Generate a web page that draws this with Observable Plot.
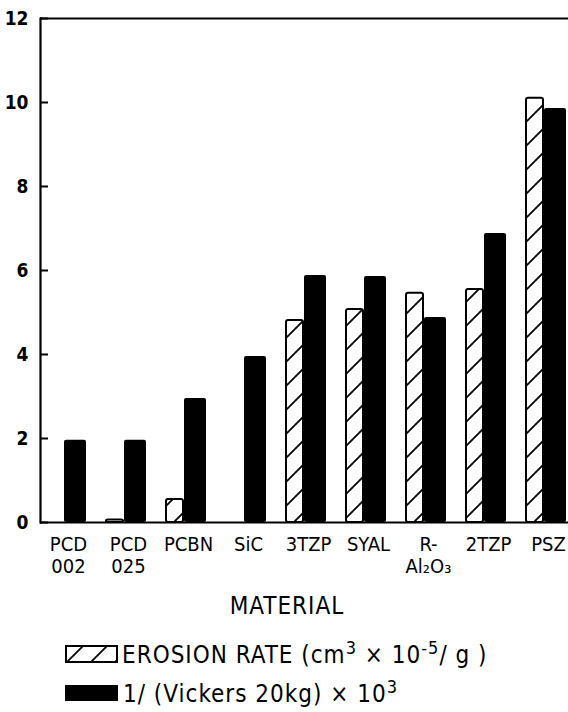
<!DOCTYPE html>
<html>
<head>
<meta charset="utf-8">
<script src="https://cdn.jsdelivr.net/npm/d3@7"></script>
<script src="https://cdn.jsdelivr.net/npm/@observablehq/plot@0.6"></script>
<style>
  html, body { margin: 0; padding: 0; background: #fff; }
  #wrap { width: 568px; position: relative; }
  svg { display: block; }
  .ff { font-family: "Liberation Sans Narrow", "DejaVu Sans Condensed", sans-serif; }
</style>
</head>
<body>
<div id="wrap"></div>
<script>
// ---- data ----
const categories = ["PCD 002", "PCD 025", "PCBN", "SiC", "3TZP", "SYAL", "R-Al2O3", "2TZP", "PSZ"];
const categoryLabels = ["PCD\n002", "PCD\n025", "PCBN", "SiC", "3TZP", "SYAL", "R-\nAl₂O₃", "2TZP", "PSZ"];
const erosionRate = [0, 0.06, 0.55, 0, 4.81, 5.07, 5.46, 5.55, 10.1];
const inverseVickers = [1.96, 1.96, 2.95, 3.95, 5.88, 5.86, 4.88, 6.88, 9.86];
const yTicks = [0, 2, 4, 6, 8, 10, 12];
const xTitle = "MATERIAL";
const legendLabels = ["EROSION RATE", "1/(Vickers 20kg)"];

const rows = categories.map((c, i) => ({cat: c, label: categoryLabels[i], erosion: erosionRate[i], vickers: inverseVickers[i]}));
const labelOf = new Map(rows.map(d => [d.cat, d.label]));

const FONT = '"Liberation Sans Narrow", "DejaVu Sans Condensed", sans-serif';

function hatchDefs(id) {
  const defs = d3.create("svg:defs");
  const p = defs.append("pattern")
    .attr("id", id)
    .attr("patternUnits", "userSpaceOnUse")
    .attr("width", 24).attr("height", 24);
  p.append("rect").attr("width", 24).attr("height", 24).attr("fill", "white");
  p.append("path")
    .attr("d", "M-6,6 L6,-6 M0,24 L24,0 M18,30 L30,18")
    .attr("stroke", "black").attr("stroke-width", 1.8).attr("fill", "none");
  return defs.node();
}

const chart = Plot.plot({
  width: 568,
  height: 585,
  marginTop: 18,
  marginBottom: 63,
  marginLeft: 40,
  marginRight: 0,
  style: {fontFamily: FONT, color: "black", background: "white", overflow: "visible"},
  x: {type: "band", domain: categories, range: [35, 575], padding: 0},
  y: {domain: [0, 12], range: [522, 18]},
  marks: [
    () => hatchDefs("hatch"),
    Plot.barY(rows, {x: "cat", y: "erosion", insetLeft: 11, insetRight: 32, fill: "url(#hatch)", stroke: "black", strokeWidth: 2, rx: 2}),
    Plot.barY(rows, {x: "cat", y: "vickers", insetLeft: 29, insetRight: 9, fill: "black", rx: 2}),
    Plot.ruleY([0], {stroke: "black", strokeWidth: 2.2}),
    Plot.ruleY([12], {stroke: "black", strokeWidth: 2.2}),
    Plot.frame({anchor: "left", stroke: "black", strokeWidth: 2.2}),
    Plot.axisY({ticks: yTicks, tickSize: 8, insetLeft: 8, tickPadding: 12, strokeWidth: 2, fontSize: 19, fontWeight: "bold", label: null, tickFormat: d => String(d)}),
    Plot.axisX({tickSize: 0, tickPadding: 13, dx: 3, fontSize: 20, lineHeight: 1.1, label: null, tickFormat: d => labelOf.get(d), style: {letterSpacing: "1px"}})
  ]
});
document.getElementById("wrap").appendChild(chart);

// ---- caption / legend below the plot ----
const leg = d3.create("svg").attr("width", 568).attr("height", 127).attr("class", "ff")
  .style("font-family", FONT).style("letter-spacing", "1px");
leg.node().appendChild(hatchDefs("hatchLegend"));
leg.append("text").attr("x", 287).attr("y", 29).attr("text-anchor", "middle")
  .attr("font-size", 24).text(xTitle);

// row 1
leg.append("rect").attr("x", 66).attr("y", 61).attr("width", 51).attr("height", 16)
  .attr("fill", "url(#hatchLegend)").attr("stroke", "black").attr("stroke-width", 2);
const t1 = leg.append("text").attr("x", 122).attr("y", 78).attr("font-size", 24);
t1.append("tspan").text(legendLabels[0] + "  (cm");
t1.append("tspan").attr("dy", -9).attr("font-size", 18).text("3");
t1.append("tspan").attr("dy", 9).text(" × 10");
t1.append("tspan").attr("dy", -9).attr("font-size", 18).text("-5");
t1.append("tspan").attr("dy", 9).text("/ g )");

// row 2
leg.append("rect").attr("x", 65).attr("y", 100).attr("width", 53).attr("height", 16).attr("fill", "black");
const t2 = leg.append("text").attr("x", 123).attr("y", 117).attr("font-size", 24);
t2.append("tspan").text("1/ (Vickers 20kg) × 10");
t2.append("tspan").attr("dy", -9).attr("font-size", 18).text("3");

document.getElementById("wrap").appendChild(leg.node());
</script>
</body>
</html>
